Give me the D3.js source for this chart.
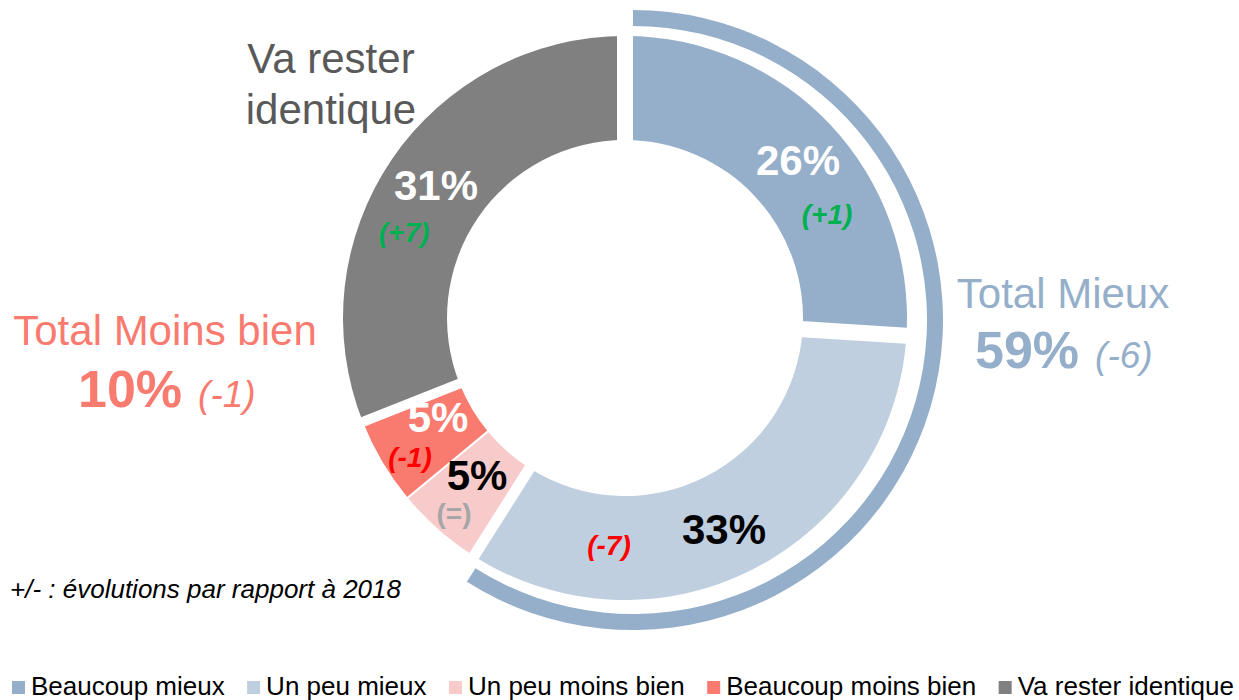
<!DOCTYPE html>
<html>
<head>
<meta charset="utf-8">
<script src="https://cdn.jsdelivr.net/npm/d3@7"></script>
<style>
  html, body { margin: 0; padding: 0; background: #fff; }
  svg { display: block; font-family: "Liberation Sans", Arial, sans-serif; }
</style>
</head>
<body>
<svg id="chart" width="1239" height="700"></svg>
<script>
// Survey answers, in clockwise order from 12 o'clock
const categories = ["Beaucoup mieux", "Un peu mieux", "Un peu moins bien", "Beaucoup moins bien", "Va rester identique"];
const values = [26, 33, 5, 5, 31];
const changes = ["(+1)", "(-7)", "(=)", "(-1)", "(+7)"];
const colors = ["#95AFCB", "#BFCFE0", "#F8CBCB", "#F97B6F", "#808080"];

// Grouped totals
const totalLabels = ["Total Mieux", "Total Moins bien"];
const totalValues = [59, 10];
const totalChanges = ["(-6)", "(-1)"];

const footnote = "+/- : évolutions par rapport à 2018";

// ---- layout ----
const svg = d3.select("#chart");
const cx = 625, cy = 318;
const rInner = 178, rOuter = 282;
// white separation width after each slice (last one closes at the top)
const gapWidths = [16, 11, 2, 10, 16];

const pie = d3.pie().sort(null).value(d => d)
  .startAngle(0).endAngle(2 * Math.PI);
const slices = pie(values);
const arc = d3.arc().innerRadius(rInner).outerRadius(rOuter);

const g = svg.append("g").attr("transform", `translate(${cx},${cy})`);
g.selectAll("path.slice")
  .data(slices)
  .join("path")
  .attr("class", "slice")
  .attr("d", arc)
  .attr("fill", (d, i) => colors[i]);

// radial white separators at slice boundaries
g.selectAll("line.sep")
  .data(slices)
  .join("line")
  .attr("class", "sep")
  .attr("x1", 0).attr("y1", 0)
  .attr("x2", d => Math.sin(d.endAngle) * (rOuter + 4))
  .attr("y2", d => -Math.cos(d.endAngle) * (rOuter + 4))
  .attr("stroke", "#fff")
  .attr("stroke-width", (d, i) => gapWidths[i]);

// outer band spanning the "mieux" answers
const mieuxShare = (values[0] + values[1]) / d3.sum(values);
const band = d3.arc().innerRadius(294).outerRadius(310)
  .startAngle(0).endAngle(mieuxShare * 2 * Math.PI);
svg.append("path")
  .attr("transform", "translate(633,320)")
  .attr("d", band())
  .attr("fill", colors[0]);

// ---- slice labels ----
const pctPos = [[798, 175], [724, 544], [477, 490], [438, 432], [436, 200]];
const pctColor = ["#fff", "#000", "#000", "#fff", "#fff"];
const chgPos = [[827, 224], [609, 555], [454, 523], [410, 467], [404, 242]];
const chgColor = ["#00B050", "#FF0000", "#A6A6A6", "#FF0000", "#00B050"];
const chgItalic = [true, true, false, true, true];

svg.selectAll("text.pct")
  .data(values)
  .join("text")
  .attr("class", "pct")
  .attr("x", (d, i) => pctPos[i][0])
  .attr("y", (d, i) => pctPos[i][1])
  .attr("text-anchor", "middle")
  .attr("font-size", 42)
  .attr("font-weight", "bold")
  .attr("fill", (d, i) => pctColor[i])
  .text(d => d + "%");

svg.selectAll("text.chg")
  .data(changes)
  .join("text")
  .attr("class", "chg")
  .attr("x", (d, i) => chgPos[i][0])
  .attr("y", (d, i) => chgPos[i][1])
  .attr("text-anchor", "middle")
  .attr("font-size", 28)
  .attr("font-weight", "bold")
  .attr("font-style", (d, i) => chgItalic[i] ? "italic" : "normal")
  .attr("fill", (d, i) => chgColor[i])
  .text(d => d);

// ---- group callouts ----
const callColor = [colors[0], colors[3]];
const callTitle = [[1063, 308], [165, 345]];
const callValue = [[975, 368], [78, 407]];
totalLabels.forEach((t, i) => {
  svg.append("text")
    .attr("x", callTitle[i][0]).attr("y", callTitle[i][1])
    .attr("text-anchor", "middle")
    .attr("font-size", 42)
    .attr("fill", callColor[i])
    .text(t);
  const line = svg.append("text")
    .attr("x", callValue[i][0]).attr("y", callValue[i][1])
    .attr("fill", callColor[i]);
  line.append("tspan")
    .attr("font-size", 52).attr("font-weight", "bold")
    .text(totalValues[i] + "%");
  line.append("tspan")
    .attr("dx", 16)
    .attr("font-size", 37).attr("font-style", "italic")
    .text(totalChanges[i]);
});

// label for the grey slice
const vaLines = ["Va rester", "identique"];
svg.selectAll("text.va")
  .data(vaLines)
  .join("text")
  .attr("class", "va")
  .attr("x", 331)
  .attr("y", (d, i) => 73 + i * 51)
  .attr("text-anchor", "middle")
  .attr("font-size", 42)
  .attr("fill", "#595959")
  .text(d => d);

// footnote
svg.append("text")
  .attr("x", 10).attr("y", 598)
  .attr("font-size", 26)
  .attr("font-style", "italic")
  .attr("fill", "#000")
  .text(footnote);

// ---- legend ----
const legendY = 695, legendSize = 26, sq = 13;
const legend = svg.append("g");
const items = legend.selectAll("g.item")
  .data(categories)
  .join("g")
  .attr("class", "item");
items.append("rect")
  .attr("width", sq).attr("height", sq)
  .attr("y", legendY - sq - 1)
  .attr("fill", (d, i) => colors[i]);
items.append("text")
  .attr("x", sq + 6)
  .attr("y", legendY)
  .attr("font-size", legendSize)
  .attr("fill", "#000")
  .text(d => d);
// spread items between the left and right margins
const widths = [];
items.each(function () {
  widths.push(sq + 6 + d3.select(this).select("text").node().getComputedTextLength());
});
const left = 12, right = 1234;
const gap = (right - left - d3.sum(widths)) / (categories.length - 1);
let xpos = left;
items.attr("transform", (d, i) => {
  const t = `translate(${xpos},0)`;
  xpos += widths[i] + gap;
  return t;
});
</script>
</body>
</html>
